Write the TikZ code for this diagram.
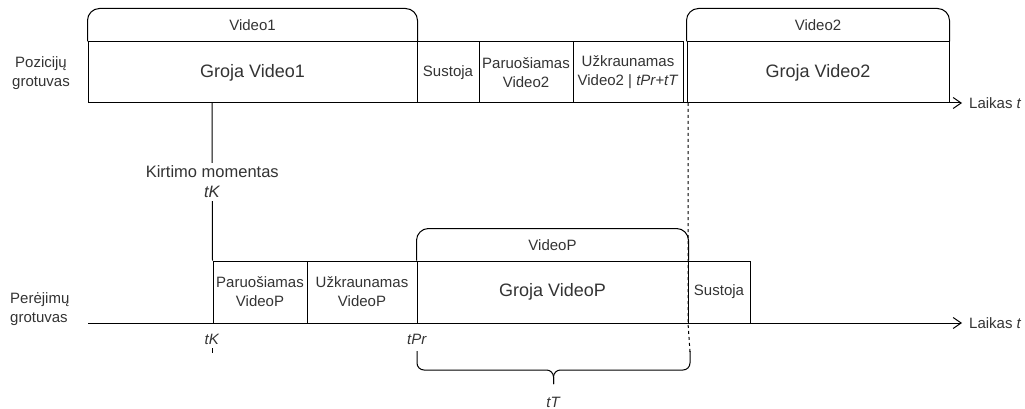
\documentclass[tikz,border=0pt]{standalone}
\usepackage{fontspec}
\setmainfont{Liberation Sans}
\usetikzlibrary{arrows.meta}
\definecolor{txt}{HTML}{333333}
\begin{document}
\begin{tikzpicture}[x=1pt,y=-1pt,
  stage/.style={draw=black, line width=1pt, inner sep=0pt, align=center, text=txt,
    minimum height=61pt, font=\fontsize{15}{19}\selectfont},
  bigstage/.style={stage, font=\fontsize{18}{22}\selectfont},
  lbl/.style={inner sep=0pt, text=txt, align=center, font=\fontsize{15}{19}\selectfont},
  timeaxis/.style={line width=1pt, -{Straight Barb[length=8pt,width=11pt]}},
  bracketline/.style={draw=black, line width=1pt, rounded corners=12pt},
  plainline/.style={line width=1pt},
  dashline/.style={line width=1pt, dash pattern=on 3pt off 3pt},
  tickline/.style={line width=1pt, dash pattern=on 5pt off 3pt},
  braceline/.style={line width=1pt, rounded corners=7pt}
]
\useasboundingbox (0,0) rectangle (1025,409);

% ---------- top row (Poziciju grotuvas) ----------
\node[lbl] (pg) at (41,73) {Pozicijų\\grotuvas};
\node[bigstage, minimum width=329pt] (g1) at (252.5,72.5) {Groja Video1};
\node[stage, minimum width=62pt] (s1) at (448,72.5) {Sustoja};
\node[stage, minimum width=94pt] (p2) at (526,72.5) {Paruošiamas\\Video2};
\node[stage, minimum width=110pt] (u2) at (628,72.5) {Užkraunamas\\Video2 | \textit{tPr+tT}};
\node[bigstage, minimum width=262pt] (g2) at (818,72.5) {Groja Video2};

\draw[bracketline] (g1.north west) -- ++(0,-33) -| (g1.north east);
\node[lbl] (v1) at (252.5,25) {Video1};
\draw[bracketline] (g2.north west) -- ++(0,-33) -| (g2.north east);
\node[lbl] (v2) at (818,25) {Video2};

\coordinate (a1s) at (88,103);
\coordinate (a1e) at (962,103);
\draw[timeaxis] (a1s) -- (a1e);
\node[lbl, anchor=west] (l1) at (969,103) {Laikas \textit{t}};

% ---------- bottom row (Perejimu grotuvas) ----------
\node[lbl, align=left, anchor=west] (rg) at (10,309) {Perėjimų\\grotuvas};
\node[stage, minimum width=94pt, minimum height=62pt] (pp) at (260,292) {Paruošiamas\\VideoP};
\node[stage, minimum width=110pt, minimum height=62pt] (up) at (362,292) {Užkraunamas\\VideoP};
\node[bigstage, minimum width=271pt, minimum height=62pt] (gp) at (552.5,292) {Groja VideoP};
\node[stage, minimum width=62pt, minimum height=62pt] (sp) at (719,292) {Sustoja};

\draw[bracketline] (gp.north west) -- ++(0,-32) -| (gp.north east);
\node[lbl] (vp) at (552.5,245) {VideoP};

\coordinate (a2s) at (88,323);
\coordinate (a2e) at (962,323);
\draw[timeaxis] (a2s) -- (a2e);
\node[lbl, anchor=west] (l2) at (969,323) {Laikas \textit{t}};

% ---------- cut moment ----------
\coordinate (k1) at (212,103);
\draw[plainline] (k1) -- node[fill=white, text=txt, inner xsep=2pt, inner ysep=3pt, align=center,
  font=\fontsize{16.5}{20}\selectfont] (km) {Kirtimo momentas\\\textit{tK}} (pp.north west);

\node[lbl] (tk) at (212,339) {\textit{tK}};
\coordinate (tkt) at (212,348);
\coordinate (tkd) at (212,353);
\draw[tickline] (tkt) -- (tkd);
\node[lbl] (tpr) at (417,339) {\textit{tPr}};

% ---------- dashed sync line ----------
\coordinate (d1) at (688,103);
\coordinate (d2) at (690,352);
\draw[dashline] (d1) -- (688,323) -- (d2);

% ---------- brace ----------
\coordinate (bl) at (417,351);
\coordinate (br) at (690,351);
\coordinate (bm) at (553.5,384);
\draw[braceline] (bl) -- (417,370) -- (553.5,370) -- (bm);
\draw[braceline] (br) -- (690,370) -- (553.5,370) -- (bm);
\node[lbl] (tt) at (553.5,402) {\textit{tT}};
\end{tikzpicture}
\end{document}
